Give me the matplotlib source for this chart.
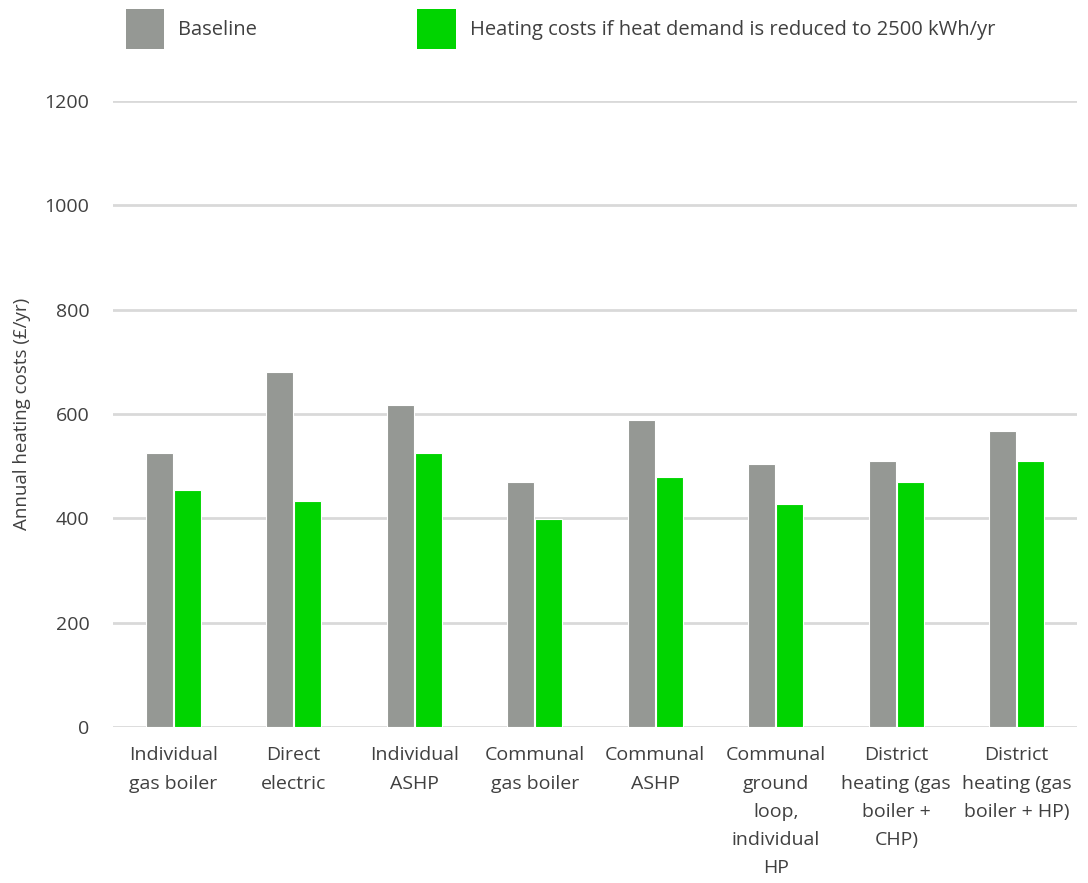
import numpy as np
import matplotlib
matplotlib.use('Agg')
import matplotlib.pyplot as plt
from matplotlib.patches import Patch

plt.rcParams['font.family'] = ['Open Sans', 'DejaVu Sans']

categories = ['Individual\ngas boiler', 'Direct\nelectric', 'Individual\nASHP',
              'Communal\ngas boiler', 'Communal\nASHP',
              'Communal\nground\nloop,\nindividual\nHP',
              'District\nheating (gas\nboiler +\nCHP)',
              'District\nheating (gas\nboiler + HP)']
baseline = [526, 680, 618, 469, 588, 505, 510, 567]
reduced = [454, 433, 526, 398, 480, 428, 469, 510]
series_names = ['Baseline', 'Heating costs if heat demand is reduced to 2500 kWh/yr']
yticks = [0, 200, 400, 600, 800, 1000, 1200]

grey = '#959894'
green = '#00d400'
text_col = '#404040'

fig = plt.figure(figsize=(10.88, 8.83), dpi=100)
ax = fig.add_axes([113/1088, 1 - 727/883, 964/1088, 626/883])

x = np.arange(len(categories))
w = 0.225
ax.bar(x - w/2 - 0.003, baseline, w, color=grey, edgecolor='white', linewidth=0.8, zorder=3)
ax.bar(x + w/2 + 0.003, reduced, w, color=green, edgecolor='white', linewidth=0.8, zorder=3)

ax.set_xlim(-0.5, len(categories) - 0.5)
ax.set_ylim(0, 1200)
ax.set_yticks(yticks)
ax.yaxis.grid(True, color='#d9d9d9', linewidth=2, zorder=0)
ax.set_axisbelow(True)
for s in ax.spines.values():
    s.set_visible(False)
ax.set_xticks(x)
ax.set_xticklabels(categories, fontsize=14, color=text_col, linespacing=1.72)
ax.tick_params(axis='x', length=0, pad=14)
ax.tick_params(axis='y', length=0, pad=17, labelsize=14, labelcolor=text_col)
ax.set_ylabel('Annual heating costs (£/yr)', fontsize=13.5, color=text_col)
ax.yaxis.set_label_coords(-82/964, 0.5)

handles = [Patch(facecolor=grey), Patch(facecolor=green)]
fig.legend(handles, series_names, loc='upper left', bbox_to_anchor=(117/1088, 1.0),
           ncol=2, frameon=False, fontsize=14.5, handlelength=1.9, handleheight=2.7,
           handletextpad=0.7, columnspacing=7.95, labelcolor=text_col, borderaxespad=0.05)

fig.savefig('out.png', dpi=100)
